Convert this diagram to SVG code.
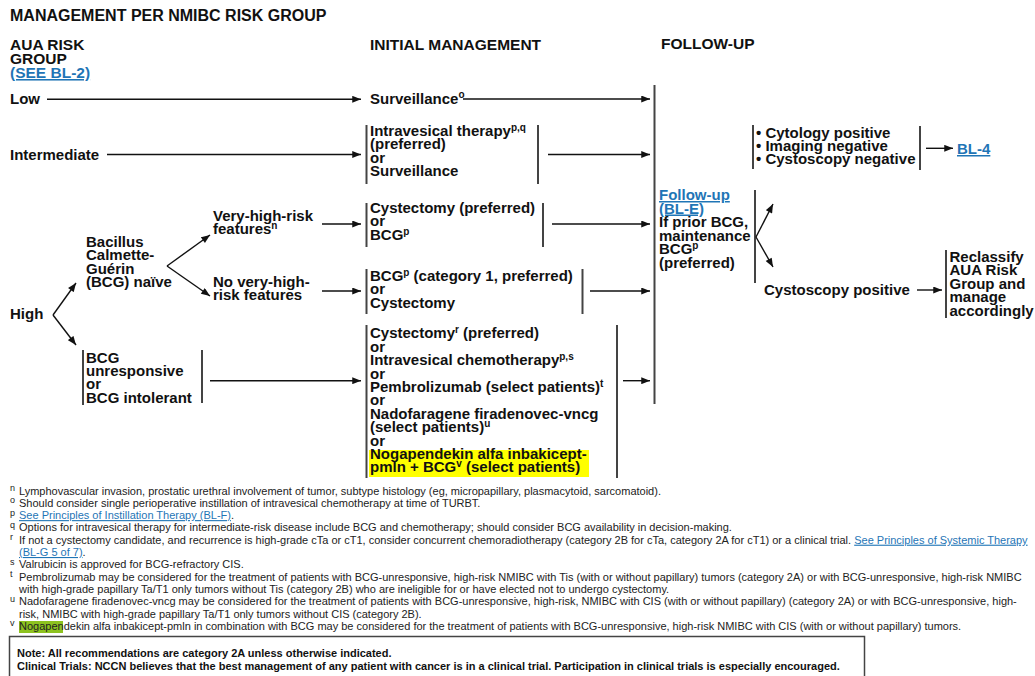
<svg xmlns="http://www.w3.org/2000/svg" width="1035" height="676" viewBox="0 0 1035 676">
<defs>
<style>
text{font-family:"Liberation Sans",Arial,sans-serif;fill:#111}
.t{font-size:16px;font-weight:bold}
.h{font-size:15.5px;font-weight:bold}
.b{font-size:15px;font-weight:bold}
.s{font-size:10px}
.lk{fill:#1f75b6;text-decoration:underline}
.fn{font-size:11px;fill:#222}
.fs{font-size:9px;fill:#222}
.nt{font-size:11px;font-weight:bold}
.bar{stroke:#444;stroke-width:2;fill:none}
.cn{stroke:#111;stroke-width:1.4;fill:none;marker-end:url(#ah)}
</style>
<marker id="ah" markerUnits="userSpaceOnUse" viewBox="0 0 10 8" refX="10" refY="4" markerWidth="10" markerHeight="7" orient="auto"><path d="M0,0L10,4L0,8z" fill="#111"/></marker>
</defs>
<rect width="1035" height="676" fill="#fff"/>

<g id="headers">
<text class="t" x="10" y="21">MANAGEMENT PER NMIBC RISK GROUP</text>
<text class="h" x="10" y="50">AUA RISK</text>
<text class="h" x="10" y="64">GROUP</text>
<text class="h lk" x="10" y="78">(SEE BL-2)</text>
<text class="h" x="370" y="50">INITIAL MANAGEMENT</text>
<text class="h" x="661" y="49">FOLLOW-UP</text>
</g>

<g id="n-low"><text class="b" x="10" y="104">Low</text></g>
<g id="n-intermediate"><text class="b" x="10" y="160">Intermediate</text></g>
<g id="n-high"><text class="b" x="10" y="319">High</text></g>

<g id="n-bcg-naive">
<text class="b" x="86" y="247">Bacillus</text>
<text class="b" x="86" y="260.4">Calmette-</text>
<text class="b" x="86" y="273.8">Guérin</text>
<text class="b" x="86" y="287.2">(BCG) naïve</text>
</g>

<g id="n-vhr">
<text class="b" x="213" y="220.5">Very-high-risk</text>
<text class="b" x="213" y="234">features<tspan class="s" dy="-5">n</tspan></text>
</g>

<g id="n-novhr">
<text class="b" x="213" y="287">No very-high-</text>
<text class="b" x="213" y="300.4">risk features</text>
</g>

<g id="n-bcg-unresp">
<line class="bar" x1="83" y1="350" x2="83" y2="405"/>
<line class="bar" x1="202" y1="350" x2="202" y2="403"/>
<text class="b" x="86" y="362.5">BCG</text>
<text class="b" x="86" y="375.9">unresponsive</text>
<text class="b" x="86" y="389.3">or</text>
<text class="b" x="86" y="402.7">BCG intolerant</text>
</g>

<g id="n-surveillance">
<text class="b" x="370" y="104">Surveillance<tspan class="s" dy="-6">o</tspan></text>
</g>

<g id="n-int-mgmt">
<line class="bar" x1="366.5" y1="125" x2="366.5" y2="184"/>
<line class="bar" x1="538" y1="125" x2="538" y2="184"/>
<text class="b" x="370" y="136">Intravesical therapy<tspan class="s" dy="-5">p,q</tspan></text>
<text class="b" x="370" y="149.4">(preferred)</text>
<text class="b" x="370" y="162.8">or</text>
<text class="b" x="370" y="176.2">Surveillance</text>
</g>

<g id="n-vhr-mgmt">
<line class="bar" x1="366.5" y1="203" x2="366.5" y2="247"/>
<line class="bar" x1="543" y1="203" x2="543" y2="247"/>
<text class="b" x="370" y="213">Cystectomy (preferred)</text>
<text class="b" x="370" y="226.4">or</text>
<text class="b" x="370" y="239.8">BCG<tspan class="s" dy="-5">p</tspan></text>
</g>

<g id="n-novhr-mgmt">
<line class="bar" x1="366.5" y1="269" x2="366.5" y2="314"/>
<line class="bar" x1="582.5" y1="269" x2="582.5" y2="314"/>
<text class="b" x="370" y="281">BCG<tspan class="s" dy="-5">p</tspan><tspan dy="5"> (category 1, preferred)</tspan></text>
<text class="b" x="370" y="294.4">or</text>
<text class="b" x="370" y="307.8">Cystectomy</text>
</g>

<g id="n-unresp-mgmt">
<rect x="369" y="450" width="220" height="27" fill="#ffff00"/>
<line class="bar" x1="366.5" y1="325" x2="366.5" y2="478"/>
<line class="bar" x1="617" y1="325" x2="617" y2="478"/>
<text class="b" x="370" y="338.4">Cystectomy<tspan class="s" dy="-5">r</tspan><tspan dy="5"> (preferred)</tspan></text>
<text class="b" x="370" y="351.8">or</text>
<text class="b" x="370" y="365.2">Intravesical chemotherapy<tspan class="s" dy="-5">p,s</tspan></text>
<text class="b" x="370" y="378.6">or</text>
<text class="b" x="370" y="392">Pembrolizumab (select patients)<tspan class="s" dy="-5">t</tspan></text>
<text class="b" x="370" y="405.4">or</text>
<text class="b" x="370" y="418.8">Nadofaragene firadenovec-vncg</text>
<text class="b" x="370" y="432.2">(select patients)<tspan class="s" dy="-5">u</tspan></text>
<text class="b" x="370" y="445.6">or</text>
<text class="b" x="370" y="459">Nogapendekin alfa inbakicept-</text>
<text class="b" x="370" y="472.4">pmln + BCG<tspan class="s" dy="-5">v</tspan><tspan dy="5"> (select patients)</tspan></text>
</g>

<g id="n-followup">
<line class="bar" x1="654.5" y1="85" x2="654.5" y2="404"/>
<line class="bar" x1="755" y1="190" x2="755" y2="283"/>
<text class="b lk" x="659" y="200">Follow-up </text>
<text class="b lk" x="659" y="213.5">(BL-E)</text>
<text class="b" x="659" y="227">If prior BCG,</text>
<text class="b" x="659" y="240.5">maintenance</text>
<text class="b" x="659" y="254">BCG<tspan class="s" dy="-5">p</tspan></text>
<text class="b" x="659" y="267.5">(preferred)</text>
</g>

<g id="n-cytology">
<line class="bar" x1="753" y1="125" x2="753" y2="169"/>
<line class="bar" x1="920" y1="126" x2="920" y2="170"/>
<text class="b" x="756" y="137.5">• Cytology positive</text>
<text class="b" x="756" y="150.9">• Imaging negative</text>
<text class="b" x="756" y="164.3">• Cystoscopy negative</text>
</g>

<g id="n-bl4"><text class="b lk" x="957" y="154">BL-4</text></g>

<g id="n-cysto-pos"><text class="b" x="764" y="295">Cystoscopy positive</text></g>

<g id="n-reclassify">
<line class="bar" x1="946" y1="250" x2="946" y2="318"/>
<text class="b" x="949.5" y="262">Reclassify</text>
<text class="b" x="949.5" y="275.4">AUA Risk</text>
<text class="b" x="949.5" y="288.8">Group and</text>
<text class="b" x="949.5" y="302.2">manage</text>
<text class="b" x="949.5" y="315.6">accordingly</text>
</g>

<g id="connectors">
<path class="cn" d="M47,99.3H361"/>
<path class="cn" d="M463,99H650"/>
<path class="cn" d="M107,154.5H361"/>
<path class="cn" d="M548,154.5H650"/>
<path class="cn" d="M53,315L76,283"/>
<path class="cn" d="M53,315L76,345"/>
<path class="cn" d="M167,266L210,235"/>
<path class="cn" d="M167,266L210,296"/>
<path class="cn" d="M322,224H361"/>
<path class="cn" d="M552,224H650"/>
<path class="cn" d="M322,291H361"/>
<path class="cn" d="M590,291H650"/>
<path class="cn" d="M210,380.7H361"/>
<path class="cn" d="M623,380.7H650"/>
<path class="cn" d="M756,237L773,204"/>
<path class="cn" d="M756,237L773,267"/>
<path class="cn" d="M926,148.3H953"/>
<path class="cn" d="M917,290H942"/>
</g>

<g id="footnotes">
<rect x="19" y="621" width="44" height="12" fill="#8dc21f"/>
<text class="fs" x="10" y="491">n</text>
<text class="fn" x="19" y="494.5">Lymphovascular invasion, prostatic urethral involvement of tumor, subtype histology (eg, micropapillary, plasmacytoid, sarcomatoid).</text>
<text class="fs" x="10" y="503.3">o</text>
<text class="fn" x="19" y="506.8">Should consider single perioperative instillation of intravesical chemotherapy at time of TURBT.</text>
<text class="fs" x="10" y="515.6">p</text>
<text class="fn" x="19" y="519.1"><tspan class="lk">See Principles of Instillation Therapy (BL-F)</tspan>.</text>
<text class="fs" x="10" y="527.9">q</text>
<text class="fn" x="19" y="531.4">Options for intravesical therapy for intermediate-risk disease include BCG and chemotherapy; should consider BCG availability in decision-making.</text>
<text class="fs" x="10" y="540.2">r</text>
<text class="fn" x="19" y="543.7">If not a cystectomy candidate, and recurrence is high-grade cTa or cT1, consider concurrent chemoradiotherapy (category 2B for cTa, category 2A for cT1) or a clinical trial. <tspan class="lk">See Principles of Systemic Therapy</tspan></text>
<text class="fn" x="19" y="556"><tspan class="lk">(BL-G 5 of 7)</tspan>.</text>
<text class="fs" x="10" y="564.8">s</text>
<text class="fn" x="19" y="568.3">Valrubicin is approved for BCG-refractory CIS.</text>
<text class="fs" x="10" y="577.1">t</text>
<text class="fn" x="19" y="580.6">Pembrolizumab may be considered for the treatment of patients with BCG-unresponsive, high-risk NMIBC with Tis (with or without papillary) tumors (category 2A) or with BCG-unresponsive, high-risk NMIBC</text>
<text class="fn" x="19" y="592.9">with high-grade papillary Ta/T1 only tumors without Tis (category 2B) who are ineligible for or have elected not to undergo cystectomy.</text>
<text class="fs" x="10" y="601.7">u</text>
<text class="fn" x="19" y="605.2">Nadofaragene firadenovec-vncg may be considered for the treatment of patients with BCG-unresponsive, high-risk, NMIBC with CIS (with or without papillary) (category 2A) or with BCG-unresponsive, high-</text>
<text class="fn" x="19" y="617.5">risk, NMIBC with high-grade papillary Ta/T1 only tumors without CIS (category 2B).</text>
<text class="fs" x="10" y="626.3">v</text>
<text class="fn" x="19" y="629.8">Nogapendekin alfa inbakicept-pmln in combination with BCG may be considered for the treatment of patients with BCG-unresponsive, high-risk NMIBC with CIS (with or without papillary) tumors.</text>
</g>

<g id="note">
<rect x="9.5" y="636.5" width="855" height="60" fill="none" stroke="#444" stroke-width="1.5"/>
<text class="nt" x="17" y="657">Note: All recommendations are category 2A unless otherwise indicated.</text>
<text class="nt" x="17" y="669.5">Clinical Trials: NCCN believes that the best management of any patient with cancer is in a clinical trial. Participation in clinical trials is especially encouraged.</text>
</g>
</svg>
